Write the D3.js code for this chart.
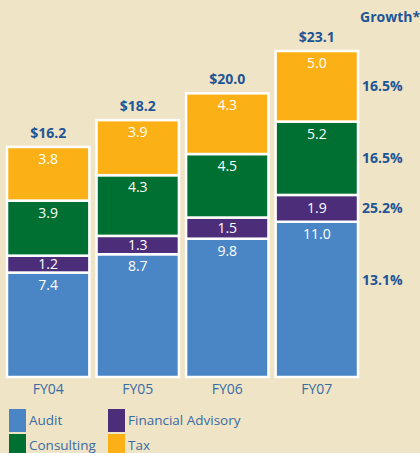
<!DOCTYPE html>
<html lang="en">
<head>
    <meta charset="UTF-8"/>
    <title>Revenue by Function</title>
    <script src="https://d3js.org/d3.v7.min.js"></script>
    <style>
        body { margin: 0; background: #efe4c6; }
        svg { display: block; font-family: "Open Sans", "DejaVu Sans", sans-serif; }
    </style>
</head>
<body>
    <script>
        var w = 420;
        var h = 453;

        // Data
        var years = ["FY04", "FY05", "FY06", "FY07"];
        var series = ["Audit", "Financial Advisory", "Consulting", "Tax"];
        var audit = [7.4, 8.7, 9.8, 11.0];
        var financialAdvisory = [1.2, 1.3, 1.5, 1.9];
        var consulting = [3.9, 4.3, 4.5, 5.2];
        var tax = [3.8, 3.9, 4.3, 5.0];
        var totals = ["$16.2", "$18.2", "$20.0", "$23.1"];
        var growth = ["13.1%", "25.2%", "16.5%", "16.5%"];
        var colors = ["#4a86c5", "#4b2d7a", "#007032", "#fbb116"];

        var values = [audit, financialAdvisory, consulting, tax];

        var rows = years.map(function(y, i) {
            var r = { year: y };
            series.forEach(function(s, j) { r[s] = values[j][i]; });
            return r;
        });

        var stack = d3.stack().keys(series)(rows);

        var xScale = d3.scaleBand().domain(years).range([7, 358]).paddingInner(0.08);
        var yScale = d3.scaleLinear().domain([0, 23.1]).range([377, 51]);
        var color = d3.scaleOrdinal().domain(series).range(colors);

        var svg = d3.select("body")
            .append("svg")
            .attr("width", w)
            .attr("height", h);

        svg.append("rect").attr("width", w).attr("height", h).attr("fill", "#efe4c6");

        var layer = svg.selectAll(".layer")
            .data(stack)
            .enter().append("g")
            .attr("class", "layer")
            .attr("fill", function(d) { return color(d.key); });

        layer.selectAll("rect")
            .data(function(d) { return d; })
            .enter().append("rect")
            .attr("x", function(d) { return xScale(d.data.year); })
            .attr("y", function(d) { return yScale(d[1]); })
            .attr("width", xScale.bandwidth())
            .attr("height", function(d) { return yScale(d[0]) - yScale(d[1]); })
            .attr("stroke", "#fff")
            .attr("stroke-width", 2.5);

        // segment values
        layer.selectAll("text")
            .data(function(d) { return d; })
            .enter().append("text")
            .attr("x", function(d) { return xScale(d.data.year) + xScale.bandwidth() / 2; })
            .attr("y", function(d) {
                var top = yScale(d[1]), bottom = yScale(d[0]);
                if (bottom - top < 32) return (top + bottom) / 2 + 5;
                return top + 17;
            })
            .attr("text-anchor", "middle")
            .attr("fill", "#fff")
            .style("font-size", "14px")
            .text(function(d) { return (d[1] - d[0]).toFixed(1); });

        // totals
        svg.selectAll(".total")
            .data(rows)
            .enter().append("text")
            .attr("class", "total")
            .attr("x", function(d) { return xScale(d.year) + xScale.bandwidth() / 2; })
            .attr("y", function(d) {
                var t = d3.sum(series, function(s) { return d[s]; });
                return yScale(t) - 9;
            })
            .attr("text-anchor", "middle")
            .attr("fill", "#1e5596")
            .style("font-size", "14px")
            .style("font-weight", "bold")
            .text(function(d, i) { return totals[i]; });

        // growth column
        svg.append("text")
            .attr("x", 360)
            .attr("y", 22)
            .attr("fill", "#1e5596")
            .style("font-size", "14px")
            .style("font-weight", "bold")
            .text("Growth*");

        var last = years.length - 1;
        svg.selectAll(".growth")
            .data(stack)
            .enter().append("text")
            .attr("class", "growth")
            .attr("x", 362)
            .attr("y", function(d, i) {
                var seg = d[last];
                var mid = (yScale(seg[0]) + yScale(seg[1])) / 2;
                if (i === 0) mid = yScale(seg[1]) + 58;
                return mid + 5;
            })
            .attr("fill", "#1e5596")
            .style("font-size", "14px")
            .style("font-weight", "bold")
            .text(function(d, i) { return growth[i]; });

        // x axis labels
        var xAxis = svg.append("g")
            .attr("transform", "translate(0,380)")
            .call(d3.axisBottom(xScale).tickSize(0).tickPadding(0));
        xAxis.select(".domain").remove();
        xAxis.selectAll("text")
            .attr("dy", "14px")
            .attr("fill", "#3a6ba5")
            .style("font-size", "14px")
            .style("font-family", "\"Open Sans\", \"DejaVu Sans\", sans-serif");

        // legend
        var legendOrder = ["Audit", "Financial Advisory", "Consulting", "Tax"];
        var legend = svg.selectAll(".legend")
            .data(legendOrder)
            .enter().append("g")
            .attr("class", "legend")
            .attr("transform", function(d, i) {
                return "translate(" + (i % 2 === 0 ? 9 : 108) + "," + (409 + Math.floor(i / 2) * 25) + ")";
            });

        legend.append("rect")
            .attr("width", 17)
            .attr("height", 23)
            .attr("fill", function(d) { return color(d); });

        legend.append("text")
            .attr("x", 20)
            .attr("y", 16)
            .attr("fill", "#3a6ba5")
            .style("font-size", "13.5px")
            .text(function(d) { return d; });
    </script>
</body>
</html>
